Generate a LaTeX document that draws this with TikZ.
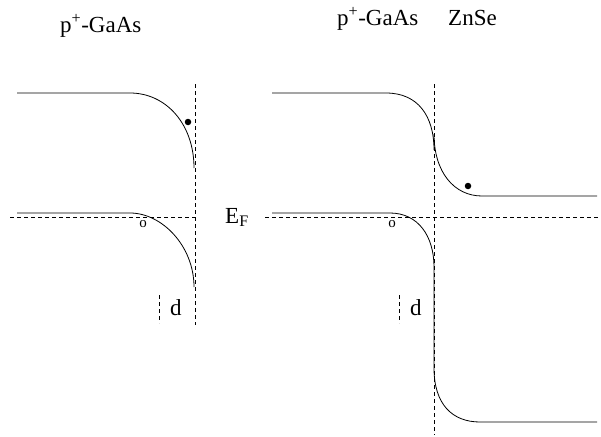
\documentclass[tikz,border=0pt]{standalone}
\usepackage{fontspec}
\setmainfont{Liberation Serif}
\begin{document}
\begin{tikzpicture}[x=1pt,y=-1pt,
  band/.style={line width=0.8pt},
  guide/.style={line width=0.6pt,dash pattern=on 4pt off 3pt},
  lbl/.style={inner sep=0pt,anchor=base west,font=\fontsize{23}{27}\selectfont},
  small/.style={inner sep=0pt,font=\fontsize{15}{17}\selectfont},
  carrier/.style={circle,fill=black,inner sep=0pt,minimum size=6.5pt}]
\useasboundingbox (0,0) rectangle (601,436);
% titles
\node[lbl] (t1) at (60,33) {p\textsuperscript{+}-GaAs};
\node[lbl] (t2) at (337,26) {p\textsuperscript{+}-GaAs};
\node[lbl] (t3) at (448,26) {ZnSe};
\node[lbl] (ef) at (225,223) {E\textsubscript{F}};
% guide coordinates
\coordinate (vl1) at (195,84); \coordinate (vl2) at (195,325);
\coordinate (vr1) at (434,84); \coordinate (vr2) at (434,435);
\coordinate (fl1) at (10,217); \coordinate (fl2) at (195,217);
\coordinate (fr1) at (265,217); \coordinate (fr2) at (600,217);
\coordinate (dl1) at (159,295); \coordinate (dl2) at (159,323);
\coordinate (dr1) at (399,295); \coordinate (dr2) at (399,323);
\draw[guide] (vl1) -- (vl2);
\draw[guide] (vr1) -- (vr2);
\draw[guide] (fl1) -- (fl2);
\draw[guide] (fr1) -- (fr2);
\draw[guide] (dl1) -- (dl2);
\draw[guide] (dr1) -- (dr2);
% left panel bands
\coordinate (lc0) at (17,93); \coordinate (lc1) at (130,93); \coordinate (lc2) at (194,168);
\draw[band] (lc0) -- (lc1) .. controls (166,93) and (194,124) .. (lc2);
\coordinate (lv0) at (17,213); \coordinate (lv1) at (130,213); \coordinate (lv2) at (194,287);
\draw[band] (lv0) -- (lv1) .. controls (162,213) and (194,246) .. (lv2);
% right panel bands
\coordinate (rc0) at (272,93); \coordinate (rc1) at (386,93); \coordinate (rc2) at (434,150);
\draw[band] (rc0) -- (rc1) .. controls (418,93) and (434,116) .. (rc2);
\coordinate (zc0) at (434,134); \coordinate (zc1) at (482,196); \coordinate (zc2) at (597,196);
\draw[band] (zc0) .. controls (434,172) and (454,196) .. (zc1) -- (zc2);
\coordinate (rv0) at (272,213); \coordinate (rv1) at (390,213); \coordinate (rv2) at (434,267);
\coordinate (rv3) at (434,368); \coordinate (rv4) at (480,422); \coordinate (rv5) at (597,422);
\draw[band] (rv0) -- (rv1) .. controls (418,213) and (434,236) .. (rv2) -- (rv3)
  .. controls (434,404) and (452,422) .. (rv4) -- (rv5);
% carriers
\node[carrier] (el1) at (188,122) {};
\node[carrier] (el2) at (468,186) {};
\node[small] (h1) at (143,224) {o};
\node[small] (h2) at (392,224) {o};
% d labels
\node[lbl] (d1) at (170,315) {d};
\node[lbl] (d2) at (410,315) {d};
\end{tikzpicture}
\end{document}
